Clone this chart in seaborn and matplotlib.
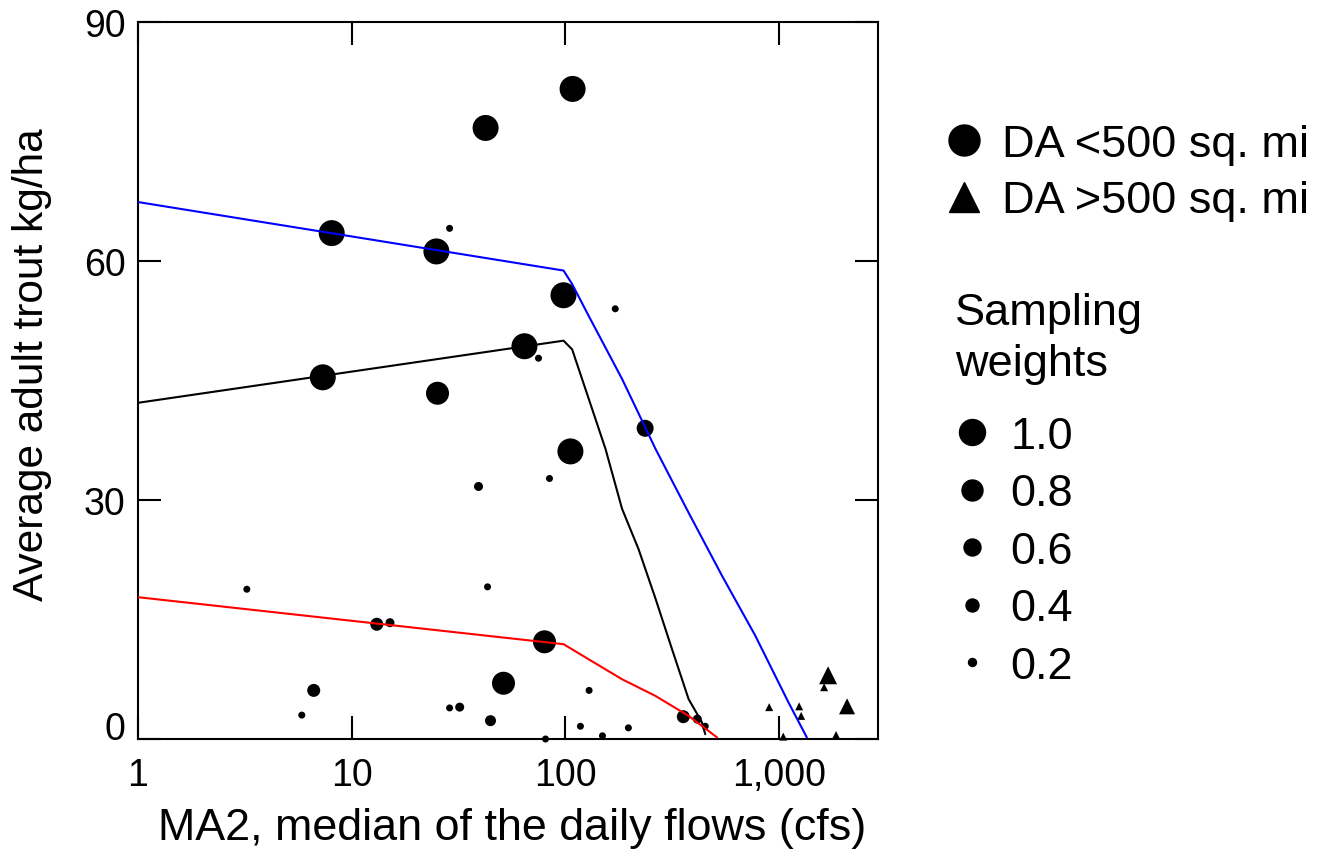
import numpy as np
import pandas as pd
import matplotlib
matplotlib.use("Agg")
import matplotlib.pyplot as plt
from matplotlib.lines import Line2D
from matplotlib.ticker import NullLocator
import seaborn as sns

# sites with drainage area < 500 sq. mi (circles)
small_x = [108, 42.3, 8.06, 24.9, 28.7, 97.9, 171, 64.3, 74.8, 7.32, 25.2, 236,
           105.5, 39.2, 84.2, 3.23, 43.2, 13.1, 15.1, 79.8, 6.64, 51.3, 129,
           5.84, 28.7, 32.0, 44.6, 80.7, 117.5, 149, 197, 356, 414, 451]
small_y = [81.6, 76.7, 63.5, 61.2, 64.1, 55.7, 54.0, 49.3, 47.8, 45.4, 43.4, 39.0,
           36.1, 31.7, 32.7, 18.8, 19.1, 14.4, 14.6, 12.2, 6.1, 7.0, 6.1,
           3.0, 3.9, 4.0, 2.3, 0.0, 1.6, 0.4, 1.4, 2.8, 2.5, 1.6]
small_w = [1.0, 1.0, 1.0, 1.0, 0.2, 1.0, 0.2, 1.0, 0.2, 1.0, 0.9, 0.7,
           1.0, 0.3, 0.2, 0.2, 0.2, 0.5, 0.3, 0.9, 0.5, 0.9, 0.2,
           0.2, 0.2, 0.3, 0.4, 0.2, 0.2, 0.2, 0.2, 0.5, 0.3, 0.2]

# sites with drainage area > 500 sq. mi (triangles)
large_x = [1694, 2078, 1623, 898, 1240, 1267, 1045, 1846]
large_y = [8.0, 4.1, 6.5, 4.0, 4.1, 2.9, 0.3, 0.5]
large_w = [1.0, 0.9, 0.3, 0.3, 0.3, 0.3, 0.3, 0.3]

# quantile regression curves
blue_x = [1, 98, 107.5, 128.5, 184, 264, 377, 540, 772, 1105, 1347]
blue_y = [67.4, 58.8, 57.1, 53.1, 45.2, 36.4, 28.4, 20.5, 13.0, 4.6, 0.2]
black_x = [1, 98, 107.5, 128.5, 154, 184, 220, 264, 315, 377, 435, 451]
black_y = [42.2, 50.0, 48.9, 42.7, 36.4, 28.9, 23.8, 17.6, 11.3, 5.0, 2.1, 0.6]
red_x = [1, 98, 128.5, 184, 264, 377, 512]
red_y = [17.8, 11.9, 10.0, 7.5, 5.4, 2.9, 0.2]

legend_weights = [1.0, 0.8, 0.6, 0.4, 0.2]

# marker diameters in pixels
circle_px = {0.2: 7, 0.3: 9, 0.4: 11, 0.5: 13, 0.6: 15, 0.7: 17, 0.8: 20, 0.9: 23, 1.0: 26}
tri_px = {0.3: 8, 0.9: 16, 1.0: 18}
legend_px = {1.0: 26, 0.8: 21, 0.6: 17, 0.4: 13, 0.2: 8}

PT = 0.72  # points per pixel at dpi 100

sns.set_style("ticks")
plt.rcParams['font.family'] = ['Liberation Sans', 'DejaVu Sans']
plt.rcParams.update({'text.color': 'black', 'axes.labelcolor': 'black',
                     'xtick.color': 'black', 'ytick.color': 'black',
                     'axes.edgecolor': 'black'})

W, H = 1329, 853
fig = plt.figure(figsize=(W / 100, H / 100), dpi=100)
ax = fig.add_axes([138 / W, 1 - 740 / H, (878 - 138) / W, (740 - 23) / H])

small = pd.DataFrame({'x': small_x, 'y': small_y, 'w': small_w})
large = pd.DataFrame({'x': large_x, 'y': large_y, 'w': large_w})

for lx, ly, c in [(blue_x, blue_y, 'blue'), (black_x, black_y, 'black'), (red_x, red_y, 'red')]:
    sns.lineplot(x=lx, y=ly, color=c, lw=1.5, sort=False, estimator=None, ax=ax, zorder=4)

sns.scatterplot(data=small, x='x', y='y', size='w',
                sizes={k: (v * PT) ** 2 for k, v in circle_px.items()},
                marker='o', color='black', linewidth=0, legend=False,
                clip_on=False, ax=ax, zorder=3)
sns.scatterplot(data=large, x='x', y='y', size='w',
                sizes={k: (v * PT) ** 2 for k, v in tri_px.items()},
                marker='^', color='black', linewidth=0, legend=False,
                clip_on=False, ax=ax, zorder=3)

ax.set_xscale('log')
ax.set_xlim(1, 2900)
ax.set_ylim(0, 90)
ax.set_xticks([1, 10, 100, 1000])
ax.set_xticklabels(['1', '10', '100', '1,000'])
ax.xaxis.set_minor_locator(NullLocator())
ax.set_yticks([0, 30, 60, 90])
ax.tick_params(direction='in', length=16.5, width=1.5, top=True, right=True,
               labelsize=27, pad=9, color='black', labelcolor='black')
ax.tick_params(axis='x', pad=13)
for s in ax.spines.values():
    s.set_linewidth(1.5)
    s.set_color('black')
ax.get_yticklabels()[0].set_verticalalignment('baseline')

ax.set_xlabel("MA2, median of the daily flows (cfs)", fontsize=32.3)
ax.set_ylabel("Average adult trout kg/ha", fontsize=30.5)
ax.xaxis.set_label_coords(0.505, -0.095)
ax.yaxis.set_label_coords(-0.116, 0.524)

fs = 32.5
h1 = [Line2D([], [], ls='none', marker='o', color='black', markersize=31 * PT),
      Line2D([], [], ls='none', marker='^', color='black', markersize=30 * PT)]
leg1 = fig.legend(h1, ['DA <500 sq. mi', 'DA >500 sq. mi'], loc='upper left',
                  bbox_to_anchor=(946 / W, 1 - 125 / H), frameon=False, fontsize=fs,
                  handlelength=0.8, handletextpad=0.45, labelspacing=0.34,
                  borderpad=0, borderaxespad=0)

fig.text(955 / W, 1 - 339 / H, "Sampling\nweights", fontsize=fs, ha='left', va='center',
         linespacing=1.33)

h2 = [Line2D([], [], ls='none', marker='o', color='black', markersize=legend_px[w] * PT)
      for w in legend_weights]
leg2 = fig.legend(h2, [f"{w:.1f}" for w in legend_weights], loc='upper left',
                  bbox_to_anchor=(954 / W, 1 - 417 / H), frameon=False, fontsize=fs,
                  handlelength=0.8, handletextpad=0.45, labelspacing=0.365,
                  borderpad=0, borderaxespad=0)

fig.savefig("out.png", dpi=100)
